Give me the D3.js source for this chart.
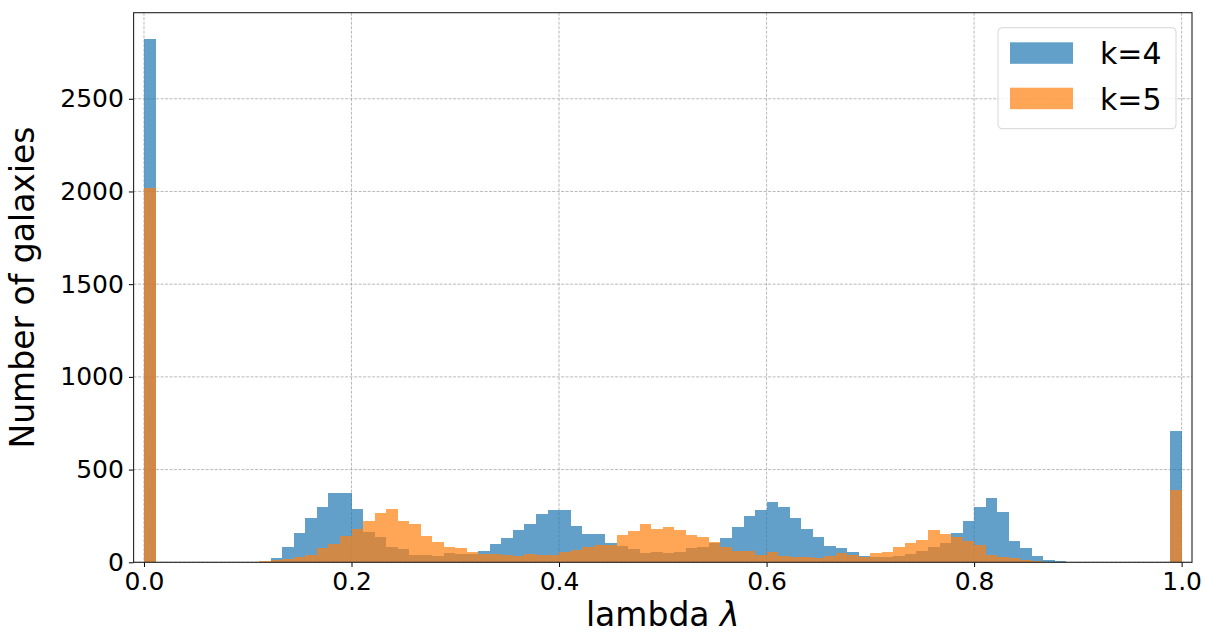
<!DOCTYPE html>
<html>
<head>
<meta charset="utf-8">
<script src="https://cdn.jsdelivr.net/npm/d3@7"></script>
<style>
  body { margin: 0; background: #fff; }
  text { font-family: "DejaVu Sans", sans-serif; fill: #000; }
</style>
</head>
<body>
<div id="chartdiv"></div>
<script>
// histogram counts, 90 bins between 0 and 1
var countsK4 = [2823, 0, 0, 0, 0, 0, 0, 0, 0, 0,
  3, 22, 81, 156, 239, 300, 376, 376, 287, 165,
  136, 82, 72, 41, 41, 34, 48, 43, 45, 63,
  97, 129, 172, 205, 259, 280, 280, 198, 151, 151,
  102, 88, 70, 50, 56, 48, 56, 75, 83, 106,
  129, 191, 251, 280, 327, 300, 238, 178, 136, 89,
  75, 56, 34, 29, 31, 34, 43, 63, 83, 102,
  158, 225, 300, 348, 269, 117, 75, 34, 15, 6,
  0, 0, 0, 0, 0, 0, 0, 0, 0, 709];

var countsK5 = [2020, 0, 0, 0, 0, 0, 0, 0, 0, 4,
  7, 13, 16, 27, 40, 75, 97, 144, 178, 225,
  268, 286, 221, 206, 144, 110, 81, 75, 55, 47,
  47, 40, 34, 47, 40, 40, 56, 68, 81, 95,
  93, 148, 167, 205, 178, 190, 173, 145, 136, 110,
  81, 61, 61, 40, 56, 34, 27, 27, 22, 34,
  48, 38, 27, 48, 55, 82, 102, 118, 176, 151,
  137, 117, 95, 42, 29, 21, 14, 9, 4, 1,
  0, 0, 0, 0, 0, 0, 0, 0, 0, 389];

var seriesNames = ["k=4", "k=5"];
var seriesColors = ["#1f77b4", "#ff7f0e"];
var xTicks = [0, 0.2, 0.4, 0.6, 0.8, 1.0];
var yTicks = [0, 500, 1000, 1500, 2000, 2500];

var W = 1206, H = 633;
var margin = {top: 12.7, right: 14, bottom: 70.7, left: 133.6},
    width = W - margin.left - margin.right,
    height = H - margin.top - margin.bottom;

var nBins = countsK4.length;

var x = d3.scaleLinear().domain([-0.01, 1.01]).range([0, width]);
var yMax = d3.max(countsK4.concat(countsK5)) * 1.05;
var y = d3.scaleLinear().domain([0, yMax]).range([height, 0]);

var svg = d3.select("#chartdiv").append("svg")
    .attr("width", W)
    .attr("height", H)
  .append("g")
    .attr("transform", "translate(" + margin.left + "," + margin.top + ")");

// grid
svg.append("g").selectAll("line.vg")
    .data(xTicks)
  .enter().append("line")
    .attr("x1", d => x(d)).attr("x2", d => x(d))
    .attr("y1", 0).attr("y2", height)
    .attr("stroke", "#a8a8a8").attr("stroke-width", 0.8)
    .attr("stroke-dasharray", "3,1.5");
svg.append("g").selectAll("line.hg")
    .data(yTicks)
  .enter().append("line")
    .attr("x1", 0).attr("x2", width)
    .attr("y1", d => y(d)).attr("y2", d => y(d))
    .attr("stroke", "#a8a8a8").attr("stroke-width", 0.8)
    .attr("stroke-dasharray", "3,1.5");

// bars, k=4 first then k=5 on top
[countsK4, countsK5].forEach(function(counts, s) {
  svg.append("g").selectAll("rect")
      .data(counts)
    .enter().append("rect")
      .attr("x", (d, i) => x(i / nBins))
      .attr("width", (d, i) => x((i + 1) / nBins) - x(i / nBins))
      .attr("y", d => y(d))
      .attr("height", d => height - y(d))
      .attr("fill", seriesColors[s])
      .attr("fill-opacity", 0.7)
      .attr("shape-rendering", "crispEdges");
});

// x axis
var xAxis = svg.append("g")
    .attr("transform", "translate(0," + height + ")")
    .call(d3.axisBottom(x).tickValues(xTicks).tickFormat(d3.format(".1f")).tickSizeOuter(0).tickSize(4.7).tickPadding(5));
xAxis.selectAll("text").attr("font-size", "25px").attr("font-family", "DejaVu Sans");
xAxis.select(".domain").remove();

// y axis
var yAxis = svg.append("g")
    .call(d3.axisLeft(y).tickValues(yTicks).tickFormat(d3.format("d")).tickSizeOuter(0).tickSize(4.7).tickPadding(5));
yAxis.selectAll("text").attr("font-size", "25px").attr("font-family", "DejaVu Sans");
yAxis.select(".domain").remove();

// frame
svg.append("rect")
    .attr("width", width).attr("height", height)
    .attr("fill", "none").attr("stroke", "#222").attr("stroke-width", 1.1);

// axis labels
var xl = svg.append("text")
    .attr("x", width / 2).attr("y", height + 64)
    .attr("text-anchor", "middle")
    .attr("font-size", "33px");
xl.append("tspan").text("lambda ");
xl.append("tspan").attr("font-style", "italic").text("λ");

svg.append("text")
    .attr("transform", "translate(" + (-100) + "," + (height / 2) + ") rotate(-90)")
    .attr("text-anchor", "middle")
    .attr("font-size", "33px")
    .text("Number of galaxies");

// legend
var lg = svg.append("g").attr("transform", "translate(" + (998 - margin.left) + "," + (27.7 - margin.top) + ")");
lg.append("rect")
    .attr("width", 178).attr("height", 101).attr("rx", 4)
    .attr("fill", "#fff").attr("fill-opacity", 0.8)
    .attr("stroke", "#d6d6d6").attr("stroke-width", 1);
seriesNames.forEach(function(name, i) {
  lg.append("rect")
      .attr("x", 12).attr("y", 14.6 + i * 45.4)
      .attr("width", 63).attr("height", 21.5)
      .attr("fill", seriesColors[i]).attr("fill-opacity", 0.7);
  lg.append("text")
      .attr("x", 102).attr("y", 36.5 + i * 45.4)
      .attr("font-size", "30px")
      .text(name);
});
</script>
</body>
</html>
